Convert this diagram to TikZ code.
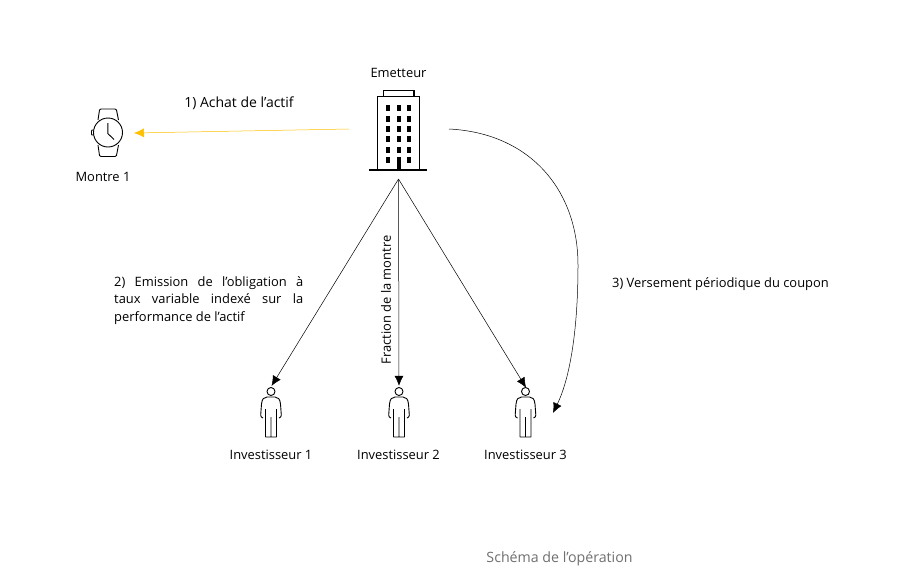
\documentclass[tikz,border=0pt]{standalone}
\usepackage{fontspec}
\setmainfont{Open Sans}
\usetikzlibrary{positioning,arrows.meta}
\definecolor{darkgold}{HTML}{FFC000}
\definecolor{captiongrey}{HTML}{6F6F6F}
\tikzset{
  person/.pic={
    \draw[line width=0.9pt, line join=round] (0,-20.5) circle (4);
    \draw[line width=0.9pt, line join=round] (-5.5,25) -- (-5.5,-3) (5.5,-3) -- (5.5,25) -- (-5.5,25)
      (0,25) -- (0,5)
      (-8,6) .. controls (-9.5,5) and (-10.5,5) .. (-10.3,3) -- (-9.5,-8) .. controls (-9,-13) and (-7,-15) .. (-4,-15) -- (4,-15)
      .. controls (7,-15) and (9,-13) .. (9.5,-8) -- (10.3,3) .. controls (10.5,5) and (9.5,5) .. (8,6);
  }
}
\begin{document}
\begin{tikzpicture}[
      x=1pt, y=-1pt,
      label/.style={font=\fontsize{12.9}{17.6}\selectfont, text=black, inner sep=0pt},
      icon/.style={inner sep=0pt, minimum width=22pt, minimum height=50pt},
      link/.style={-{Latex[length=10pt,width=9pt]}, line width=0.5pt, draw=black},
      glass/.style={fill=black, draw=none}
      ]
      \useasboundingbox (0,0) rectangle (908,582);
      % emitter building
      \node[inner sep=0pt, minimum width=58pt, minimum height=88pt] (EM) at (398,134) {};
      \draw[line width=1.5pt] (377.5,170) -- (377.5,96.5) -- (419.5,96.5) -- (419.5,170);
      \draw[line width=1.5pt] (383.5,96.5) -- (383.5,90.5) -- (414,90.5) -- (414,96.5);
      \draw[line width=1.5pt] (369,170) -- (427,170);
      \foreach \col in {386,396.5,407} {
        \foreach \row in {105,115.5,126,136,146.5} {
          \fill[glass] (\col,\row) rectangle ++(4,6);
        }
      }
      \fill[glass] (386,157) rectangle ++(4,6);
      \fill[glass] (407,157) rectangle ++(4,6);
      \fill[glass] (396.5,157) rectangle (400.5,170);
      % watch
      \node[inner sep=0pt, minimum width=34pt, minimum height=48pt] (WA) at (107,133) {};
      \draw[line width=0.9pt] (108,132.5) circle (14.5);
      \draw[line width=0.9pt, line join=round] (98,120) -- (99.5,110) .. controls (100,109) .. (101,109) -- (115,109) .. controls (116,109) .. (116.5,110) -- (118.5,120)
        (98,145) -- (99.5,155.5) .. controls (100,156.5) .. (101,156.5) -- (115,156.5) .. controls (116,156.5) .. (116.5,155.5) -- (118.5,145);
      \draw[line width=0.9pt] (93.5,130) -- (92,130) -- (91.5,131) -- (91.5,134) -- (92,135) -- (93.5,135);
      \draw[line width=0.9pt] (107.8,123) -- (107.8,133.5) -- (114,139.5);
      % investors
      \node[icon] (INV1) at (271,412) {};
      \node[icon] (INV2) at (399,412) {};
      \node[icon] (INV3) at (525.5,412) {};
      \pic at (INV1) {person};
      \pic at (INV2) {person};
      \pic at (INV3) {person};
      % labels
      \node[label] (EML) at (398.5,72.5) {Emetteur};
      \node[label] (WAL) at (103,177) {Montre 1};
      \node[label] (INV1L) at (271,454.5) {Investisseur 1};
      \node[label] (INV2L) at (398.5,454.5) {Investisseur 2};
      \node[label] (INV3L) at (525.5,454.5) {Investisseur 3};
      \node[label, font=\fontsize{14}{17}\selectfont] (STEPA) at (239,103.5) {1) Achat de l’actif};
      \node[label, text width=189pt, align=justify, anchor=north west] (STEPB) at (114,276) {2) Emission de l’obligation à\linebreak taux variable indexé sur la\linebreak performance de l’actif};
      \node[label] (STEPC) at (720.5,284.5) {3) Versement périodique du coupon};
      \node[label, rotate=90] (FRAC) at (386,300) {Fraction de la montre};
      \node[font=\fontsize{14.2}{17}\selectfont, text=captiongrey, inner sep=0pt] (CAP) at (559.5,559) {Schéma de l’opération};
      % connectors
      \coordinate (EMW) at (349,129);
      \coordinate (EME) at (449,129);
      \coordinate (EMS) at (398.5,179);
      \coordinate (WAE) at (134,133);
      \coordinate (COUP) at (553,413);
      \draw[link, draw=darkgold] (EMW) -- (WAE);
      \draw[link, shorten >=1pt] (EMS) -- (INV1.north);
      \draw[link, shorten >=1pt] (EMS) -- (INV2.north);
      \draw[link, shorten >=-1pt] (EMS) -- (INV3.north);
      \draw[link] (EME) .. controls (530,133) and (578,190) .. (578,265) .. controls (578,330) and (570,378) .. (COUP);
    \end{tikzpicture}
\end{document}
